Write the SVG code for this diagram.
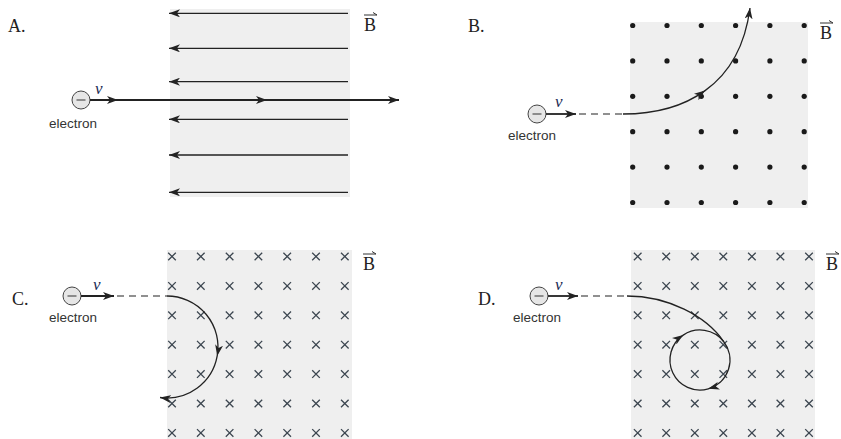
<svg xmlns="http://www.w3.org/2000/svg" width="841" height="439" viewBox="0 0 841 439">
<style>
.bg{fill:#efefef}
.lbl{font-family:"Liberation Serif","Times New Roman",serif;font-size:18px;fill:#222}
.vel{font-family:"Liberation Serif","Times New Roman",serif;font-size:17px;font-style:italic;fill:#1c2a55}
.el{font-family:"Liberation Sans",Arial,sans-serif;font-size:13.5px;fill:#333}
.ln{stroke:#222;stroke-width:1.3;fill:none}
.thick{stroke:#222;stroke-width:1.8;fill:none}
.dash{stroke:#222;stroke-width:1.1;stroke-dasharray:7 5;fill:none}
.ec{fill:#e6e6e6;stroke:#444;stroke-width:1}
.vec{stroke:#333;stroke-width:1;fill:none}
.dot{fill:#1a1a1a}
.x{stroke:#3c4650;stroke-width:1.3}
</style>
<defs>
<marker id="ah" markerUnits="userSpaceOnUse" markerWidth="12" markerHeight="8" refX="11" refY="4" orient="auto">
<path d="M0,0 L11,4 L0,8 L3,4 z" fill="#222"/>
</marker>
<g id="cross"><path class="x" d="M-3.8,-3.8 L3.8,3.8 M-3.8,3.8 L3.8,-3.8"/></g>
<g id="electron"><circle class="ec" r="9"/><path d="M-4.5,0 L4.5,0" stroke="#333" stroke-width="1"/></g>
</defs>

<g id="panelA">
<rect class="bg" x="170" y="9" width="180" height="188"/>
<text class="lbl" x="8" y="32">A.</text>
<text class="lbl" x="364" y="31">B</text>
<path class="vec" d="M364,15 L377,15 M377,15 L373,12.5"/>
<use href="#electron" x="81" y="100"/>
<text class="vel" x="95" y="94">v</text>
<text class="el" x="49" y="128">electron</text>
</g>

<g id="panelB">
<rect class="bg" x="630" y="22" width="178" height="186"/>
<text class="lbl" x="468" y="32">B.</text>
<text class="lbl" x="820" y="39">B</text>
<path class="vec" d="M820,23 L833,23 M833,23 L829,20.5"/>
<g id="dotsB" class="dot">
<circle cx="632.7" cy="25.5" r="2.6"/><circle cx="667" cy="25.5" r="2.6"/><circle cx="701.3" cy="25.5" r="2.6"/><circle cx="735.6" cy="25.5" r="2.6"/><circle cx="769.9" cy="25.5" r="2.6"/><circle cx="804.2" cy="25.5" r="2.6"/>
<circle cx="632.7" cy="60.9" r="2.6"/><circle cx="667" cy="60.9" r="2.6"/><circle cx="701.3" cy="60.9" r="2.6"/><circle cx="735.6" cy="60.9" r="2.6"/><circle cx="769.9" cy="60.9" r="2.6"/><circle cx="804.2" cy="60.9" r="2.6"/>
<circle cx="632.7" cy="96.3" r="2.6"/><circle cx="667" cy="96.3" r="2.6"/><circle cx="701.3" cy="96.3" r="2.6"/><circle cx="735.6" cy="96.3" r="2.6"/><circle cx="769.9" cy="96.3" r="2.6"/><circle cx="804.2" cy="96.3" r="2.6"/>
<circle cx="632.7" cy="131.7" r="2.6"/><circle cx="667" cy="131.7" r="2.6"/><circle cx="701.3" cy="131.7" r="2.6"/><circle cx="735.6" cy="131.7" r="2.6"/><circle cx="769.9" cy="131.7" r="2.6"/><circle cx="804.2" cy="131.7" r="2.6"/>
<circle cx="632.7" cy="167.1" r="2.6"/><circle cx="667" cy="167.1" r="2.6"/><circle cx="701.3" cy="167.1" r="2.6"/><circle cx="735.6" cy="167.1" r="2.6"/><circle cx="769.9" cy="167.1" r="2.6"/><circle cx="804.2" cy="167.1" r="2.6"/>
<circle cx="632.7" cy="202.5" r="2.6"/><circle cx="667" cy="202.5" r="2.6"/><circle cx="701.3" cy="202.5" r="2.6"/><circle cx="735.6" cy="202.5" r="2.6"/><circle cx="769.9" cy="202.5" r="2.6"/><circle cx="804.2" cy="202.5" r="2.6"/>
</g>
<use href="#electron" x="537" y="114"/>
<text class="vel" x="555" y="107">v</text>
<text class="el" x="508" y="140">electron</text>
</g>

<g id="panelC">
<rect class="bg" x="167" y="250" width="185" height="189"/>
<text class="lbl" x="12" y="305">C.</text>
<text class="lbl" x="363" y="270">B</text>
<path class="vec" d="M363,254 L376,254 M376,254 L372,251.5"/>
<g id="crossesC">
<use href="#cross" x="172" y="256.5"/><use href="#cross" x="200.8" y="256.5"/><use href="#cross" x="229.6" y="256.5"/><use href="#cross" x="258.4" y="256.5"/><use href="#cross" x="287.2" y="256.5"/><use href="#cross" x="316" y="256.5"/><use href="#cross" x="344.8" y="256.5"/>
<use href="#cross" x="172" y="285.9"/><use href="#cross" x="200.8" y="285.9"/><use href="#cross" x="229.6" y="285.9"/><use href="#cross" x="258.4" y="285.9"/><use href="#cross" x="287.2" y="285.9"/><use href="#cross" x="316" y="285.9"/><use href="#cross" x="344.8" y="285.9"/>
<use href="#cross" x="172" y="315.3"/><use href="#cross" x="200.8" y="315.3"/><use href="#cross" x="229.6" y="315.3"/><use href="#cross" x="258.4" y="315.3"/><use href="#cross" x="287.2" y="315.3"/><use href="#cross" x="316" y="315.3"/><use href="#cross" x="344.8" y="315.3"/>
<use href="#cross" x="172" y="344.7"/><use href="#cross" x="200.8" y="344.7"/><use href="#cross" x="229.6" y="344.7"/><use href="#cross" x="258.4" y="344.7"/><use href="#cross" x="287.2" y="344.7"/><use href="#cross" x="316" y="344.7"/><use href="#cross" x="344.8" y="344.7"/>
<use href="#cross" x="172" y="374.1"/><use href="#cross" x="200.8" y="374.1"/><use href="#cross" x="229.6" y="374.1"/><use href="#cross" x="258.4" y="374.1"/><use href="#cross" x="287.2" y="374.1"/><use href="#cross" x="316" y="374.1"/><use href="#cross" x="344.8" y="374.1"/>
<use href="#cross" x="172" y="403.5"/><use href="#cross" x="200.8" y="403.5"/><use href="#cross" x="229.6" y="403.5"/><use href="#cross" x="258.4" y="403.5"/><use href="#cross" x="287.2" y="403.5"/><use href="#cross" x="316" y="403.5"/><use href="#cross" x="344.8" y="403.5"/>
<use href="#cross" x="172" y="432.9"/><use href="#cross" x="200.8" y="432.9"/><use href="#cross" x="229.6" y="432.9"/><use href="#cross" x="258.4" y="432.9"/><use href="#cross" x="287.2" y="432.9"/><use href="#cross" x="316" y="432.9"/><use href="#cross" x="344.8" y="432.9"/>
</g>
<use href="#electron" x="72" y="296"/>
<text class="vel" x="93" y="290">v</text>
<text class="el" x="49" y="322">electron</text>
</g>

<g id="panelD">
<rect class="bg" x="631" y="250" width="184" height="189"/>
<text class="lbl" x="478" y="305">D.</text>
<text class="lbl" x="826" y="270">B</text>
<path class="vec" d="M826,254 L839,254 M839,254 L835,251.5"/>
<g id="crossesD">
<use href="#cross" x="637.7" y="256.5"/><use href="#cross" x="666.2" y="256.5"/><use href="#cross" x="694.8" y="256.5"/><use href="#cross" x="723.3" y="256.5"/><use href="#cross" x="751.9" y="256.5"/><use href="#cross" x="780.4" y="256.5"/><use href="#cross" x="809" y="256.5"/>
<use href="#cross" x="637.7" y="285.9"/><use href="#cross" x="666.2" y="285.9"/><use href="#cross" x="694.8" y="285.9"/><use href="#cross" x="723.3" y="285.9"/><use href="#cross" x="751.9" y="285.9"/><use href="#cross" x="780.4" y="285.9"/><use href="#cross" x="809" y="285.9"/>
<use href="#cross" x="637.7" y="315.3"/><use href="#cross" x="666.2" y="315.3"/><use href="#cross" x="694.8" y="315.3"/><use href="#cross" x="723.3" y="315.3"/><use href="#cross" x="751.9" y="315.3"/><use href="#cross" x="780.4" y="315.3"/><use href="#cross" x="809" y="315.3"/>
<use href="#cross" x="637.7" y="344.7"/><use href="#cross" x="666.2" y="344.7"/><use href="#cross" x="694.8" y="344.7"/><use href="#cross" x="723.3" y="344.7"/><use href="#cross" x="751.9" y="344.7"/><use href="#cross" x="780.4" y="344.7"/><use href="#cross" x="809" y="344.7"/>
<use href="#cross" x="637.7" y="374.1"/><use href="#cross" x="666.2" y="374.1"/><use href="#cross" x="694.8" y="374.1"/><use href="#cross" x="723.3" y="374.1"/><use href="#cross" x="751.9" y="374.1"/><use href="#cross" x="780.4" y="374.1"/><use href="#cross" x="809" y="374.1"/>
<use href="#cross" x="637.7" y="403.5"/><use href="#cross" x="666.2" y="403.5"/><use href="#cross" x="694.8" y="403.5"/><use href="#cross" x="723.3" y="403.5"/><use href="#cross" x="751.9" y="403.5"/><use href="#cross" x="780.4" y="403.5"/><use href="#cross" x="809" y="403.5"/>
<use href="#cross" x="637.7" y="432.9"/><use href="#cross" x="666.2" y="432.9"/><use href="#cross" x="694.8" y="432.9"/><use href="#cross" x="723.3" y="432.9"/><use href="#cross" x="751.9" y="432.9"/><use href="#cross" x="780.4" y="432.9"/><use href="#cross" x="809" y="432.9"/>
</g>
<use href="#electron" x="539" y="296"/>
<text class="vel" x="555" y="290">v</text>
<text class="el" x="513" y="322">electron</text>
</g>

<g id="connectors">
<path class="ln" marker-end="url(#ah)" d="M348,13.3 L169,13.3"/>
<path class="ln" marker-end="url(#ah)" d="M348,48.3 L169,48.3"/>
<path class="ln" marker-end="url(#ah)" d="M348,81.7 L169,81.7"/>
<path class="ln" marker-end="url(#ah)" d="M348,119.3 L169,119.3"/>
<path class="ln" marker-end="url(#ah)" d="M348,155 L169,155"/>
<path class="ln" marker-end="url(#ah)" d="M348,192.3 L169,192.3"/>
<path class="thick" marker-mid="url(#ah)" marker-end="url(#ah)" d="M90,100 L118,100 L267,100 L399,100"/>
<path class="thick" marker-end="url(#ah)" d="M546,114 L576,114"/>
<path class="dash" d="M579,114 L623,114"/>
<path class="ln" marker-mid="url(#ah)" marker-end="url(#ah)" d="M623,114 C646.1,114 678.6,109.8 705.1,90.6 C726.9,75 744.6,49.4 750,8"/>
<path class="thick" marker-end="url(#ah)" d="M81,296 L114,296"/>
<path class="dash" d="M117,296 L167,296"/>
<path class="ln" marker-mid="url(#ah)" marker-end="url(#ah)" d="M167,296 A51,51 0 0 1 217.2,355.9 A51,51 0 0 1 160,397.5"/>
<path class="thick" marker-end="url(#ah)" d="M548,296 L578,296"/>
<path class="dash" d="M581,296 L627,296"/>
<path class="ln" d="M627,296 C668,296 706,316 723.6,341.5"/>
<path class="ln" marker-mid="url(#ah)" d="M723.6,341.5 A30,30 0 0 1 708.3,388.8 A30,30 0 0 1 683.2,335.1 A30,30 0 0 1 723.6,341.5"/>
</g>
</svg>
